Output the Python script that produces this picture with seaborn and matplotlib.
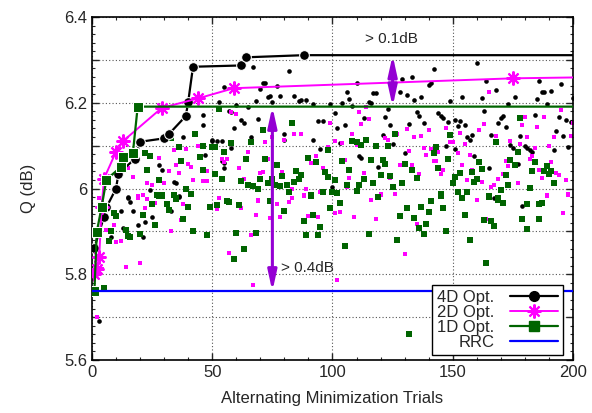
import matplotlib
matplotlib.use("Agg")
import matplotlib.pyplot as plt
from matplotlib.ticker import MultipleLocator, FuncFormatter
from matplotlib.lines import Line2D
import pandas as pd
import seaborn as sns

# best-so-far curves (improvement points, last point = flat run to the end)
best_4d_x = [1, 5, 6, 10, 11, 18, 20, 30, 32, 39, 40, 42, 62, 64, 88, 200]
best_4d_q = [5.862, 5.934, 5.956, 6.0, 6.035, 6.07, 6.109, 6.117, 6.127, 6.169,
             6.202, 6.284, 6.287, 6.306, 6.311, 6.311]
best_2d_x = [1, 2, 3, 4, 5, 10, 13, 29, 44, 59, 175, 200]
best_2d_q = [5.801, 5.813, 5.84, 5.957, 6.023, 6.086, 6.111, 6.188, 6.21, 6.234, 6.257, 6.259]
best_1d_x = [1, 2, 4, 6, 12, 13, 17, 19, 200]
best_1d_q = [5.761, 5.899, 5.957, 6.021, 6.05, 6.074, 6.083, 6.191, 6.191]
rrc_x = [0, 200]
rrc_q = [5.76, 5.76]

# single trials (trial, Q)
trials_4d = [
    (38, 6.121), (46, 6.148), (46, 6.171), (50, 6.113), (47, 6.078), (28, 6.054), (29, 6.044),
    (34, 6.015), (35, 6.012), (36, 5.981), (24, 5.996), (15, 5.981),
    (67, 6.283), (82, 6.275), (71, 6.245), (72, 6.246), (70, 6.231), (77, 6.239), (55, 6.236),
    (73, 6.214), (74, 6.216), (78, 6.216), (84, 6.215), (87, 6.206), (89, 6.206), (86, 6.204),
    (68, 6.205), (75, 6.201), (53, 6.202), (60, 6.195), (65, 6.191), (92, 6.197), (99, 6.198),
    (57, 6.18), (58, 6.178), (62, 6.16), (63, 6.152), (69, 6.163), (59, 6.14), (80, 6.127),
    (80, 6.114), (94, 6.157), (96, 6.157), (92, 6.113), (95, 6.091), (66, 6.119), (50, 6.111),
    (52, 6.111), (54, 6.111), (58, 6.095), (54, 6.064), (55, 6.06), (55, 6.047),
    (142, 6.279), (133, 6.259), (129, 6.255), (141, 6.247), (140, 6.241), (110, 6.245),
    (106, 6.224), (117, 6.222), (118, 6.222), (107, 6.208), (128, 6.224), (131, 6.217),
    (137, 6.214), (134, 6.206), (104, 6.2), (115, 6.201), (116, 6.2), (149, 6.205), (123, 6.185),
    (108, 6.193), (101, 6.175), (135, 6.179), (136, 6.169), (144, 6.177), (145, 6.169),
    (146, 6.164), (122, 6.167), (113, 6.164), (148, 6.156), (102, 6.142), (105, 6.148),
    (124, 6.148), (132, 6.15), (138, 6.153), (121, 6.125), (103, 6.105), (125, 6.104),
    (147, 6.099), (130, 6.083), (111, 6.075), (112, 6.072), (119, 6.05), (100, 6.004),
    (160, 6.293), (164, 6.25), (186, 6.251), (195, 6.243), (168, 6.23), (187, 6.226),
    (188, 6.226), (191, 6.228), (154, 6.214), (162, 6.21), (176, 6.213), (185, 6.209),
    (200, 6.21), (173, 6.197), (189, 6.196), (163, 6.181), (184, 6.171), (194, 6.167),
    (171, 6.169), (170, 6.165), (169, 6.153), (151, 6.16), (153, 6.158), (152, 6.146),
    (172, 6.144), (197, 6.16), (199, 6.154), (155, 6.148), (166, 6.125), (178, 6.122),
    (158, 6.125), (156, 6.119), (157, 6.113), (193, 6.134), (196, 6.122), (174, 6.101),
    (175, 6.094), (180, 6.1), (182, 6.09), (183, 6.086), (181, 6.094), (192, 6.09), (198, 6.096),
    (151, 6.092), (159, 6.075), (177, 6.057), (165, 6.049),
    (15, 5.977), (16, 5.969), (12, 5.947), (17, 5.947), (25, 5.934), (22, 5.921), (19, 5.916),
    (13, 5.908), (21, 5.887), (8, 5.887), (33, 5.947), (36, 5.982), (3, 5.69),
    (167, 5.978), (179, 5.959),
]
trials_2d = [
    (34, 6.089), (39, 6.092), (44, 6.099), (28, 6.072), (35, 6.054), (40, 6.058), (41, 6.051),
    (32, 6.04), (36, 6.036), (17, 6.027), (42, 6.021), (46, 6.017), (48, 6.017), (48, 6.041),
    (23, 6.012), (25, 6.008), (30, 6.012), (21, 5.986), (19, 5.982), (15, 6.047),
    (58, 6.179), (60, 6.174), (84, 6.127), (87, 6.127), (80, 6.114), (75, 6.119), (72, 6.109),
    (65, 6.085), (99, 6.152), (54, 6.07), (56, 6.068), (55, 6.063), (61, 6.047), (93, 6.075),
    (91, 6.06), (98, 6.096), (73, 6.07), (70, 6.037), (71, 6.039), (79, 6.039), (63, 6.023),
    (96, 6.047), (83, 6.0), (89, 6.0), (88, 5.984), (95, 5.992), (53, 5.977), (83, 5.979),
    (69, 5.974),
    (111, 6.179), (114, 6.191), (115, 6.162), (112, 6.151), (131, 6.139), (140, 6.137),
    (147, 6.142), (108, 6.128), (127, 6.128), (134, 6.119), (137, 6.122), (122, 6.117),
    (123, 6.113), (149, 6.109), (101, 6.111), (104, 6.107), (110, 6.101), (138, 6.095),
    (141, 6.091), (144, 6.086), (132, 6.087), (139, 6.079), (142, 6.065), (143, 6.065),
    (105, 6.066), (128, 6.054), (133, 6.054), (146, 6.044), (145, 6.035), (136, 6.034),
    (113, 6.037), (107, 6.025), (124, 6.025), (106, 6.004), (120, 5.987), (126, 5.987),
    (116, 5.974),
    (195, 6.183), (165, 6.226), (180, 6.167), (188, 6.167), (163, 6.15), (179, 6.148),
    (185, 6.144), (200, 6.152), (161, 6.136), (153, 6.13), (168, 6.122), (181, 6.121),
    (192, 6.121), (199, 6.122), (150, 6.109), (155, 6.104), (174, 6.111), (178, 6.103),
    (190, 6.099), (184, 6.095), (152, 6.082), (157, 6.078), (183, 6.076), (182, 6.069),
    (172, 6.065), (173, 6.052), (191, 6.062), (154, 6.055), (158, 6.044), (186, 6.044),
    (193, 6.037), (194, 6.031), (171, 6.034), (156, 6.021), (169, 6.023), (187, 6.025),
    (197, 6.021), (162, 6.016), (177, 6.012), (167, 6.008), (166, 6.004), (189, 5.984),
    (198, 5.987), (160, 5.974),
    (3, 5.977), (19, 5.978), (26, 5.967), (23, 5.975), (22, 5.955), (38, 5.963), (37, 5.926),
    (9, 5.916), (6, 5.903), (33, 5.9), (10, 5.875), (12, 5.877), (14, 5.818), (20, 5.827),
    (2, 5.7), (3, 5.84), (4, 5.813),
    (53, 5.977), (52, 5.952), (62, 5.955), (69, 5.97), (77, 5.965), (83, 5.978), (82, 5.969),
    (88, 5.983), (68, 5.938), (74, 5.932), (78, 5.934), (90, 5.936), (94, 5.934), (66, 5.892),
    (57, 5.85), (67, 5.776),
    (116, 5.973), (120, 5.984), (101, 5.944), (103, 5.945), (109, 5.934), (118, 5.928),
    (135, 5.918), (130, 5.848), (102, 5.786),
    (160, 5.973), (189, 5.983), (198, 5.985), (196, 5.943), (164, 5.928),
]
trials_1d = [
    (33, 6.117), (43, 6.127), (36, 6.097), (46, 6.1), (50, 6.097), (22, 6.082), (24, 6.075),
    (37, 6.065), (45, 6.074), (23, 6.044), (46, 6.043), (28, 6.021), (39, 6.0), (41, 5.988),
    (27, 5.985), (29, 5.985), (34, 5.986), (35, 5.976), (31, 6.12),
    (53, 6.185), (83, 6.153), (71, 6.136), (66, 6.109), (58, 6.105), (51, 6.097), (55, 6.084),
    (64, 6.068), (72, 6.068), (90, 6.072), (93, 6.062), (98, 6.089), (77, 6.054), (85, 6.041),
    (87, 6.031), (86, 6.023), (97, 6.039), (98, 6.027), (51, 6.033), (54, 6.023), (70, 6.023),
    (79, 6.029), (75, 6.023), (62, 6.017), (65, 6.009), (67, 6.005), (69, 6.0), (73, 6.012),
    (76, 6.008), (78, 6.005), (81, 6.009), (84, 6.015), (82, 5.992), (91, 5.984), (96, 5.992),
    (126, 6.127), (114, 6.114), (108, 6.111), (110, 6.109), (112, 6.101), (118, 6.1),
    (123, 6.099), (143, 6.096), (142, 6.082), (148, 6.07), (104, 6.065), (116, 6.066),
    (121, 6.066), (122, 6.057), (130, 6.057), (133, 6.044), (144, 6.047), (107, 6.043),
    (113, 6.023), (120, 6.031), (124, 6.029), (135, 6.025), (101, 6.019), (106, 6.008),
    (111, 6.008), (117, 6.012), (125, 6.004), (129, 6.012), (110, 5.995), (100, 5.992),
    (102, 5.99), (119, 5.981), (145, 5.987), (150, 6.012),
    (178, 6.164), (168, 6.108), (149, 6.125), (177, 6.084), (161, 6.061), (174, 6.066),
    (162, 6.045), (184, 6.061), (176, 6.054), (189, 6.052), (188, 6.041), (191, 6.041),
    (190, 6.034), (183, 6.041), (192, 6.013), (153, 6.037), (158, 6.039), (172, 6.031),
    (151, 6.026), (160, 6.023), (159, 6.016), (173, 6.008), (170, 5.996), (182, 6.002),
    (152, 5.992), (156, 5.992), (165, 5.982), (169, 5.979), (154, 5.977),
    (9, 5.944), (10, 5.936), (25, 5.963), (26, 5.916), (31, 5.963), (32, 5.949), (21, 5.939),
    (28, 5.982), (29, 5.982), (35, 5.978), (40, 5.957), (49, 5.957), (38, 5.928), (14, 5.904),
    (8, 5.9), (15, 5.889), (16, 5.887), (20, 5.895), (7, 5.877), (42, 5.9), (48, 5.892),
    (5, 5.768),
    (52, 5.961), (56, 5.97), (57, 5.969), (61, 5.961), (74, 5.97), (80, 5.947), (91, 5.983),
    (92, 5.939), (88, 5.924), (95, 5.91), (99, 5.955), (60, 5.897), (68, 5.897), (89, 5.892),
    (94, 5.892), (63, 5.86), (59, 5.836),
    (103, 5.967), (119, 5.98), (141, 5.97), (145, 5.983), (137, 5.957), (131, 5.955),
    (146, 5.955), (140, 5.945), (128, 5.936), (134, 5.931), (139, 5.918), (136, 5.908),
    (147, 5.9), (115, 5.895), (138, 5.895), (127, 5.881), (105, 5.865), (132, 5.661),
    (154, 5.977), (165, 5.98), (169, 5.973), (171, 5.967), (181, 5.963), (186, 5.963),
    (187, 5.967), (155, 5.939), (163, 5.926), (166, 5.924), (167, 5.913), (179, 5.928),
    (186, 5.93), (181, 5.905), (157, 5.879), (164, 5.827),
]

C_BLACK = "black"
C_MAG = "#ff00ff"
C_GREEN = "#006400"
C_BLUE = "#0000ff"
C_ARROW = "#9400d3"

sns.set_style("ticks")
plt.rcParams["font.family"] = ["Liberation Sans", "DejaVu Sans"]
plt.rcParams["font.size"] = 12

fig = plt.figure(figsize=(5.92, 4.13), dpi=100)
ax = fig.add_axes([0.1554, 0.1283, 0.8125, 0.8305])

# scattered single trials
for pts, col, mk, s in [(trials_4d, C_BLACK, "o", 11),
                        (trials_2d, C_MAG, "s", 12),
                        (trials_1d, C_GREEN, "s", 16)]:
    df = pd.DataFrame(pts, columns=["trial", "q"])
    sns.scatterplot(data=df, x="trial", y="q", color=col, marker=mk, s=s,
                    linewidth=0, ax=ax, zorder=2)

# best-so-far lines
df4 = pd.DataFrame({"trial": best_4d_x, "q": best_4d_q})
sns.lineplot(data=df4, x="trial", y="q", color=C_BLACK, lw=1.6, marker="o", ms=7,
             markevery=slice(0, len(best_4d_x) - 1), sort=False, estimator=None,
             ax=ax, zorder=4)
df2 = pd.DataFrame({"trial": best_2d_x, "q": best_2d_q})
sns.lineplot(data=df2, x="trial", y="q", color=C_MAG, lw=1.4, marker=(8, 2, 0), ms=10,
             mew=1.5, mec=C_MAG, markevery=slice(0, len(best_2d_x) - 1), sort=False,
             estimator=None, ax=ax, zorder=4)
df1 = pd.DataFrame({"trial": best_1d_x, "q": best_1d_q})
sns.lineplot(data=df1, x="trial", y="q", color=C_GREEN, lw=1.6, marker="s", ms=7.5,
             markevery=slice(0, len(best_1d_x) - 1), sort=False, estimator=None,
             ax=ax, zorder=4)
dfr = pd.DataFrame({"trial": rrc_x, "q": rrc_q})
sns.lineplot(data=dfr, x="trial", y="q", color=C_BLUE, lw=1.6, sort=False,
             estimator=None, ax=ax, zorder=4)

# gain arrows
arrow = dict(arrowstyle="<|-|>,head_length=1.0,head_width=0.22", color=C_ARROW,
             lw=2.2, shrinkA=0, shrinkB=0)
ax.annotate("", xy=(75, 5.76), xytext=(75, 6.191), arrowprops=arrow, zorder=6)
ax.annotate("", xy=(125, 6.191), xytext=(125, 6.311), arrowprops=arrow, zorder=6)
ax.text(78.5, 5.815, "> 0.4dB", fontsize=11, va="center", ha="left", zorder=6)
ax.text(113.5, 6.349, "> 0.1dB", fontsize=11, va="center", ha="left", zorder=6)

ax.set_xlim(0, 200)
ax.set_ylim(5.6, 6.4)
ax.xaxis.set_major_locator(MultipleLocator(50))
ax.xaxis.set_minor_locator(MultipleLocator(10))
ax.yaxis.set_major_locator(MultipleLocator(0.1))
ax.yaxis.set_minor_locator(MultipleLocator(0.02))


def ylab(v, pos):
    r = round(v * 10)
    return f"{round(v, 1):g}" if r % 2 == 0 else ""


ax.yaxis.set_major_formatter(FuncFormatter(ylab))
ax.tick_params(which="both", direction="in", top=True, right=True, labelsize=12)
ax.tick_params(which="major", length=5, width=1)
ax.tick_params(which="minor", length=2.5, width=0.8)
ax.grid(True, which="major", linestyle=(0, (1, 2)), color="#555555", lw=0.8)
for sp in ax.spines.values():
    sp.set_linewidth(1.2)
    sp.set_color("black")

ax.set_xlabel("Alternating Minimization Trials", fontsize=12, labelpad=8)
ax.set_ylabel("Q (dB)", fontsize=12, labelpad=20)

handles = [
    Line2D([], [], color=C_BLACK, lw=1.6, marker="o", ms=7),
    Line2D([], [], color=C_MAG, lw=1.4, marker=(8, 2, 0), ms=10, mew=1.5),
    Line2D([], [], color=C_GREEN, lw=1.6, marker="s", ms=7.5),
    Line2D([], [], color=C_BLUE, lw=1.6),
]
leg = ax.legend(handles, ["4D Opt.", "2D Opt.", "1D Opt.", "RRC"], loc="lower right",
                bbox_to_anchor=(0.979, 0.0146), markerfirst=False, fontsize=12,
                handlelength=2.9, labelspacing=0.0, borderpad=0.3, handletextpad=0.9,
                borderaxespad=0.0, fancybox=False, framealpha=1, edgecolor="black")
leg.get_frame().set_linewidth(1.0)
leg.set_zorder(10)

fig.savefig("out.png", dpi=100)
